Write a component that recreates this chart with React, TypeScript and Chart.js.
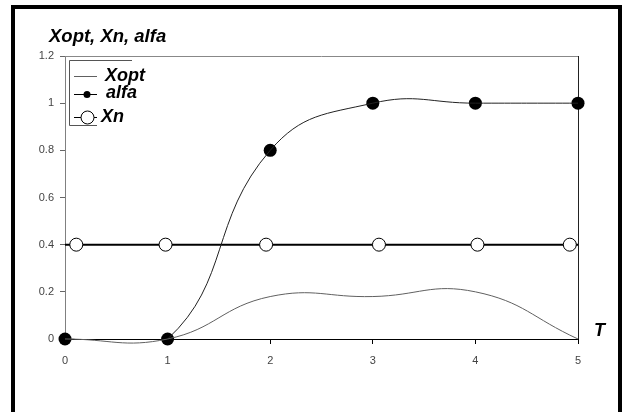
import React, { useEffect, useRef } from "react";
import { Chart, registerables } from "chart.js";

Chart.register(...registerables);

const chartTitle = "Xopt, Xn, alfa";
const xAxisTitle = "T";
const seriesNames = ["Xopt", "alfa", "Xn"];

const tValues = [0, 1, 2, 3, 4, 5];
const xoptValues = [0, 0, 0.18, 0.18, 0.2, 0];
const alfaValues = [0, 0, 0.8, 1, 1, 1];
const xnT = [0, 0.11, 0.98, 1.96, 3.06, 4.02, 4.92, 5];
const xnValues = [0.4, 0.4, 0.4, 0.4, 0.4, 0.4, 0.4, 0.4];

const yMin = 0;
const yMax = 1.2;
const yStep = 0.2;
const xMin = 0;
const xMax = 5;

const FONT = "'Liberation Sans', Arial, sans-serif";

const overlayPlugin = {
  id: "overlay",
  beforeDatasetsDraw(chart: any) {
    const { ctx, chartArea } = chart;
    ctx.save();
    ctx.strokeStyle = "#888";
    ctx.lineWidth = 1;
    ctx.beginPath();
    ctx.moveTo(chartArea.left, chartArea.top + 0.5);
    ctx.lineTo(chartArea.right, chartArea.top + 0.5);
    ctx.stroke();
    ctx.strokeStyle = "#222";
    ctx.beginPath();
    ctx.moveTo(chartArea.right + 0.5, chartArea.top);
    ctx.lineTo(chartArea.right + 0.5, chartArea.bottom);
    ctx.stroke();
    ctx.restore();
  },
  afterDraw(chart: any) {
    const { ctx } = chart;
    ctx.save();
    // outer frame
    ctx.fillStyle = "#000";
    ctx.fillRect(11, 5, 610, 4);
    ctx.fillRect(11, 5, 4, 412);
    ctx.fillRect(618, 5, 4, 412);

    // title
    ctx.fillStyle = "#000";
    ctx.font = `italic bold 18.5px ${FONT}`;
    ctx.textBaseline = "middle";
    ctx.textAlign = "left";
    ctx.fillText(chartTitle, 49, 37);

    // axis title T
    ctx.font = `italic bold 18px ${FONT}`;
    ctx.fillText(xAxisTitle, 594, 331);

    // legend box
    ctx.strokeStyle = "#555";
    ctx.lineWidth = 1;
    ctx.beginPath();
    ctx.moveTo(132, 60.5);
    ctx.lineTo(69.5, 60.5);
    ctx.lineTo(69.5, 125.5);
    ctx.lineTo(97, 125.5);
    ctx.stroke();

    const rows = [76, 94, 117];
    const textX = [105, 106, 101];
    ctx.strokeStyle = "#606060";
    ctx.beginPath();
    ctx.moveTo(74, rows[0] + 0.5);
    ctx.lineTo(97, rows[0] + 0.5);
    ctx.stroke();
    ctx.strokeStyle = "#000";
    ctx.beginPath();
    ctx.moveTo(74, rows[1] + 0.5);
    ctx.lineTo(97, rows[1] + 0.5);
    ctx.stroke();
    ctx.fillStyle = "#000";
    ctx.beginPath();
    ctx.arc(87, rows[1] + 0.5, 3.5, 0, Math.PI * 2);
    ctx.fill();
    ctx.beginPath();
    ctx.moveTo(74, rows[2] + 0.5);
    ctx.lineTo(97, rows[2] + 0.5);
    ctx.stroke();
    ctx.fillStyle = "#fff";
    ctx.beginPath();
    ctx.arc(87.5, rows[2] + 0.5, 6.5, 0, Math.PI * 2);
    ctx.fill();
    ctx.stroke();

    ctx.fillStyle = "#000";
    ctx.font = `italic bold 18px ${FONT}`;
    ctx.textBaseline = "middle";
    seriesNames.forEach((name, i) => {
      ctx.fillText(name, textX[i], rows[i] + (i === 1 ? -1 : 0));
    });
    ctx.restore();
  },
};

export default function App() {
  const canvasRef = useRef<HTMLCanvasElement | null>(null);

  useEffect(() => {
    const canvas = canvasRef.current;
    if (!canvas) return;
    const alfaPoints = tValues.map((t, i) => ({ x: t, y: alfaValues[i] }));
    const chart = new Chart(canvas, {
      type: "line",
      data: {
        datasets: [
          {
            label: seriesNames[0],
            data: tValues.map((t, i) => ({ x: t, y: xoptValues[i] })),
            borderColor: "#606060",
            borderWidth: 1,
            pointRadius: 0,
            tension: 0.45,
            fill: false,
            clip: false as any,
          },
          {
            label: seriesNames[1],
            data: alfaPoints,
            borderColor: "#222",
            borderWidth: 1,
            pointRadius: 0,
            tension: 0.45,
            fill: false,
          },
          {
            label: seriesNames[1] + " markers",
            data: alfaPoints,
            showLine: false,
            pointRadius: 6.5,
            pointBackgroundColor: "#000",
            pointBorderColor: "#000",
            pointBorderWidth: 0,
            clip: false as any,
          },
          {
            label: seriesNames[2],
            data: xnT.map((t, i) => ({ x: t, y: xnValues[i] })),
            borderColor: "#000",
            borderWidth: 2,
            pointRadius: (c: any) =>
              c.dataIndex === 0 || c.dataIndex === xnT.length - 1 ? 0 : 6.5,
            pointBackgroundColor: "#fff",
            pointBorderColor: "#000",
            pointBorderWidth: 1,
            tension: 0,
            fill: false,
          },
        ],
      },
      options: {
        responsive: false,
        animation: false,
        devicePixelRatio: 1,
        elements: { line: { capBezierPoints: false } },
        layout: { padding: { top: 56, right: 44, left: 0, bottom: 0 } },
        plugins: {
          legend: { display: false },
          tooltip: { enabled: false },
          title: { display: false },
        },
        scales: {
          x: {
            type: "linear",
            min: xMin,
            max: xMax,
            afterFit: (s: any) => {
              s.height = 73;
            },
            ticks: {
              stepSize: 1,
              padding: 10,
              color: "#444",
              font: { family: FONT, size: 11 },
              maxRotation: 0,
            },
            grid: {
              display: true,
              drawOnChartArea: false,
              drawTicks: true,
              tickLength: 5,
              color: "#000",
            },
            border: { display: true, color: "#000", width: 1 },
          },
          y: {
            type: "linear",
            min: yMin,
            max: yMax,
            afterFit: (s: any) => {
              s.width = 65;
            },
            ticks: {
              stepSize: yStep,
              padding: 6,
              color: "#444",
              font: { family: FONT, size: 11 },
              callback: (v: any) => String(Number(Number(v).toFixed(1))),
            },
            grid: {
              display: true,
              drawOnChartArea: false,
              drawTicks: true,
              tickLength: 5,
              color: "#666",
            },
            border: { display: true, color: "#808080", width: 1 },
          },
        },
      },
      plugins: [overlayPlugin],
    });
    return () => chart.destroy();
  }, []);

  return (
    <div
      style={{
        position: "absolute",
        left: 0,
        top: 0,
        width: 622,
        height: 412,
        background: "#fff",
      }}
    >
      <canvas
        ref={canvasRef}
        width={622}
        height={412}
        style={{ width: 622, height: 412, display: "block" }}
      />
    </div>
  );
}
